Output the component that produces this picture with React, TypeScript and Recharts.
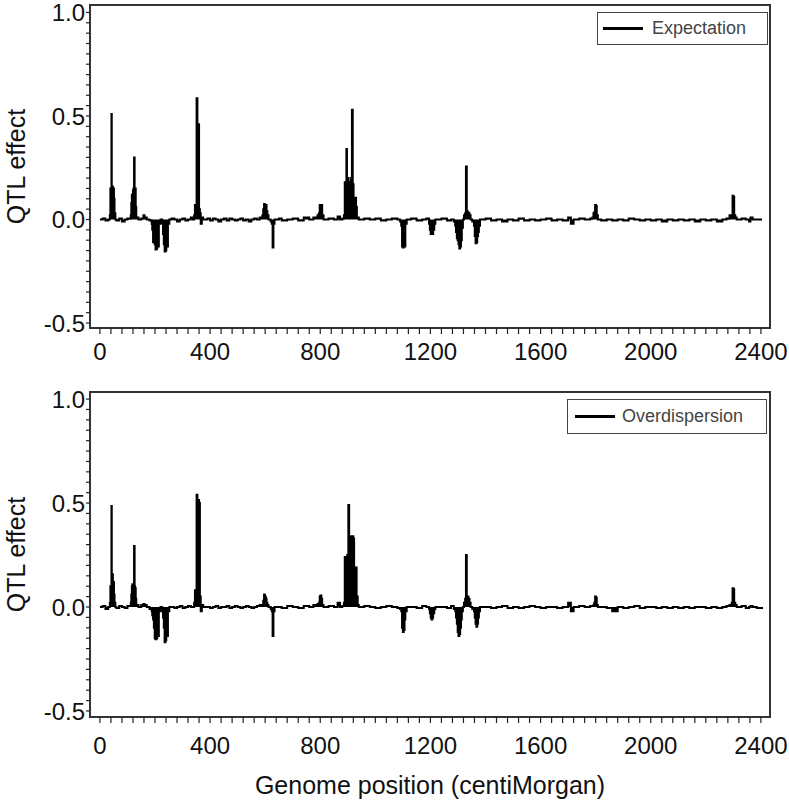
import { ComposedChart, Area, XAxis, YAxis, ReferenceArea, Legend } from "recharts"

const FONT = "'Liberation Sans', Arial, Helvetica, sans-serif"

// genome position (cM) and QTL effect, expectation part
const expPos = [
  0, 10, 20, 30,
  36, 38, 40, 42, 43, 45, 47, 49, 51, 53, 56,
  60, 70, 80, 90, 100,
  112, 114, 116, 118, 120, 122, 124, 126, 128, 130, 132, 140,
  150, 158, 162, 170, 180,
  188, 190, 193, 196, 199, 202, 205, 208, 211, 214, 220,
  226, 229, 232, 235, 238, 241, 244, 247, 252,
  260, 270, 280, 290, 300, 310, 320, 330, 338,
  342, 345, 348, 351, 354, 357, 360, 363, 366, 370, 375,
  390, 400, 410, 420, 430, 440, 450, 460, 470, 480, 490, 500, 510, 520, 530, 540, 550, 560, 570, 580,
  590, 593, 596, 599, 602, 605, 608, 612,
  620, 624, 627, 630, 634,
  650, 660, 680, 700, 720, 740, 760, 775, 790,
  795, 798, 801, 804, 807, 812,
  830, 850, 863, 872, 880,
  886, 889, 892, 895, 897, 900, 903, 906, 909, 912, 915, 918, 921, 924, 927, 930, 933, 940,
  960, 980, 1000, 1020, 1040, 1060, 1080, 1090,
  1094, 1097, 1100, 1103, 1106, 1109, 1114,
  1130, 1150, 1170, 1185,
  1195, 1198, 1201, 1204, 1207, 1210, 1214, 1218,
  1240, 1260, 1275, 1285,
  1290, 1293, 1296, 1299, 1302, 1305, 1308, 1311, 1314, 1318,
  1322, 1326, 1329, 1332, 1335, 1338, 1342, 1346, 1352,
  1358, 1361, 1364, 1367, 1370, 1373, 1376, 1380,
  1400, 1420, 1440, 1460, 1480, 1500, 1520, 1540, 1560, 1580, 1600, 1620, 1640, 1660, 1680, 1700, 1710, 1720, 1740, 1760, 1780,
  1788, 1792, 1795, 1798, 1801, 1804, 1808,
  1820, 1840, 1860, 1880, 1900, 1920, 1940, 1960, 1980, 2000, 2020, 2040, 2060, 2080, 2100, 2120, 2140, 2160, 2180, 2200, 2220, 2240, 2260, 2275,
  2286, 2290, 2294, 2297, 2300, 2303, 2307, 2312,
  2330, 2345, 2357, 2362, 2370, 2385, 2404,
]
const expVal = [
  0, 0.005, -0.005, 0,
  0.02, 0.15, 0.1, 0.51, 0.15, 0.16, 0.12, 0.15, 0.1, 0.03, 0,
  -0.005, 0.005, -0.01, 0, 0.005,
  0.02, 0.08, 0.12, 0.1, 0.14, 0.15, 0.3, 0.12, 0.15, 0.06, 0.01, 0,
  0.005, 0.02, 0.01, 0, -0.005,
  -0.02, -0.05, -0.11, -0.08, -0.12, -0.145, -0.14, -0.1, -0.13, -0.02, 0,
  -0.02, -0.07, -0.12, -0.155, -0.15, -0.1, -0.13, -0.02, 0,
  0.005, 0, -0.01, 0, 0.005, -0.005, 0, 0.01, 0,
  0.02, 0.07, 0.05, 0.586, 0.07, 0.46, 0.05, 0.03, -0.02, 0.01, 0,
  0.005, -0.005, 0.005, 0, -0.01, 0, 0.005, -0.005, 0.005, 0, -0.005, 0, 0.005, -0.005, 0, -0.01, 0, 0.005, 0, 0.01,
  0.02, 0.05, 0.075, 0.06, 0.07, 0.04, 0.02, 0,
  -0.01, -0.02, -0.135, -0.02, 0,
  0.005, -0.005, 0, 0.005, -0.005, 0.01, 0, 0.01, 0.02,
  0.03, 0.07, 0.065, 0.07, 0.02, 0,
  0.005, 0, 0.015, 0, 0.005,
  0.02, 0.18, 0.15, 0.34, 0.18, 0.2, 0.16, 0.18, 0.16, 0.2, 0.53, 0.17, 0.105, 0.1, 0.105, 0.06, 0.01, 0,
  0.005, 0, 0.005, -0.005, 0, 0.005, 0, -0.01,
  -0.03, -0.13, -0.135, -0.12, -0.13, -0.02, 0,
  0.005, -0.005, 0, 0.005,
  -0.02, -0.05, -0.07, -0.06, -0.07, -0.05, -0.02, 0,
  0.005, -0.005, 0, -0.01,
  -0.03, -0.06, -0.09, -0.1, -0.12, -0.14, -0.13, -0.1, -0.04, 0,
  0.02, 0.03, 0.256, 0.04, 0.035, 0.03, 0.02, 0, -0.01,
  -0.03, -0.08, -0.115, -0.11, -0.08, -0.06, -0.03, 0,
  0.005, -0.005, 0, -0.01, 0, -0.005, 0.005, -0.005, 0, -0.005, 0, 0.005, -0.005, 0, -0.005, 0.01, -0.02, 0, 0.005, 0, 0.005,
  0.01, 0.03, 0.035, 0.07, 0.065, 0.02, 0,
  -0.005, 0, -0.005, 0, -0.005, 0.005, 0, -0.005, 0, -0.005, 0, -0.01, 0, -0.005, 0, -0.005, 0, -0.01, 0, -0.005, 0, -0.01, 0, 0.005,
  0.02, 0.02, 0.02, 0.115, 0.11, 0.02, 0.01, 0,
  0.005, 0, -0.01, 0.01, 0, 0, 0,
]

// overdispersion part
const ovdPos = [
  0, 10, 20, 30,
  36, 38, 40, 42, 43, 45, 47, 49, 51, 53, 56,
  60, 70, 80, 90, 100,
  112, 114, 116, 118, 120, 122, 124, 126, 128, 130, 132, 140,
  150, 158, 162, 170, 180,
  188, 190, 193, 196, 199, 202, 205, 208, 211, 214, 220,
  226, 229, 232, 235, 238, 241, 244, 247, 252,
  260, 270, 280, 290, 300, 310, 320, 330, 338,
  342, 345, 348, 351, 354, 357, 360, 363, 366, 370, 375,
  390, 400, 410, 420, 430, 440, 450, 460, 470, 480, 490, 500, 510, 520, 530, 540, 550, 560, 570, 580,
  590, 593, 596, 599, 602, 605, 608, 612,
  620, 624, 627, 630, 634,
  650, 660, 680, 700, 720, 740, 760, 775, 790,
  795, 798, 801, 804, 807, 812,
  830, 850, 863, 872, 880,
  886, 889, 892, 895, 898, 902, 905, 908, 911, 914, 917, 920, 923, 926, 929, 932, 936, 940,
  960, 980, 1000, 1020, 1040, 1060, 1080, 1090,
  1094, 1097, 1100, 1103, 1106, 1109, 1114,
  1130, 1150, 1170, 1185,
  1195, 1198, 1201, 1204, 1207, 1210, 1214, 1218,
  1240, 1260, 1275, 1285,
  1290, 1293, 1296, 1299, 1302, 1305, 1308, 1311, 1314, 1318,
  1322, 1326, 1329, 1332, 1335, 1338, 1342, 1346, 1352,
  1358, 1361, 1364, 1367, 1370, 1373, 1376, 1380,
  1400, 1420, 1440, 1460, 1480, 1500, 1520, 1540, 1560, 1580, 1600, 1620, 1640, 1660, 1680, 1700, 1710, 1720, 1740, 1760, 1780,
  1788, 1792, 1795, 1798, 1801, 1804, 1808,
  1820, 1840, 1860, 1880, 1900, 1920, 1940, 1960, 1980, 2000, 2020, 2040, 2060, 2080, 2100, 2120, 2140, 2160, 2180, 2200, 2220, 2240, 2260, 2275,
  2286, 2290, 2294, 2297, 2300, 2303, 2307, 2312,
  2330, 2345, 2357, 2362, 2370, 2385, 2404,
]
const ovdVal = [
  0, 0.005, -0.01, 0,
  0.02, 0.1, 0.08, 0.486, 0.15, 0.157, 0.11, 0.12, 0.06, 0.02, 0,
  -0.005, 0.005, 0, -0.005, 0.005,
  0.02, 0.06, 0.1, 0.11, 0.1, 0.11, 0.293, 0.1, 0.09, 0.04, 0.01, 0,
  0.01, 0.015, 0.01, 0, -0.01,
  -0.02, -0.04, -0.06, -0.1, -0.15, -0.155, -0.15, -0.12, -0.14, -0.02, 0,
  -0.02, -0.05, -0.1, -0.17, -0.16, -0.12, -0.14, -0.02, 0,
  0, -0.005, 0, 0.005, -0.005, 0, 0.005, 0, 0,
  0.02, 0.08, 0.06, 0.54, 0.5, 0.515, 0.5, 0.05, -0.02, 0.01, 0,
  0, -0.005, 0, 0.005, -0.005, 0, 0, 0.005, -0.005, 0, 0.005, 0, -0.005, 0, 0.005, 0, -0.005, 0, 0.005, 0.01,
  0.01, 0.03, 0.06, 0.05, 0.04, 0.02, 0.01, 0,
  -0.01, -0.02, -0.14, -0.02, 0,
  0, -0.005, 0.005, 0, -0.005, 0.005, 0, 0.01, 0.015,
  0.02, 0.05, 0.055, 0.04, 0.01, 0,
  0.005, 0, 0.02, 0, 0.005,
  0.02, 0.24, 0.22, 0.24, 0.25, 0.49, 0.25, 0.24, 0.34, 0.33, 0.34, 0.33, 0.19, 0.18, 0.19, 0.05, 0.01, 0,
  0.005, 0, -0.005, 0, 0.005, 0, -0.005, -0.01,
  -0.02, -0.1, -0.12, -0.11, -0.06, -0.02, 0,
  0, -0.005, 0.005, 0,
  -0.01, -0.03, -0.05, -0.06, -0.05, -0.03, -0.01, 0,
  0, -0.005, 0.005, -0.01,
  -0.02, -0.05, -0.08, -0.12, -0.14, -0.13, -0.1, -0.06, -0.02, 0,
  0.02, 0.04, 0.25, 0.05, 0.05, 0.04, 0.02, 0, -0.01,
  -0.02, -0.05, -0.08, -0.095, -0.08, -0.05, -0.02, 0,
  0, -0.005, 0, 0.005, -0.005, 0, -0.005, 0, 0.005, 0, -0.005, 0, 0, -0.005, 0, 0.02, -0.02, 0, 0.005, 0, 0.005,
  0.005, 0.01, 0.02, 0.05, 0.045, 0.01, 0,
  0, -0.005, -0.02, 0, -0.005, 0, 0.005, -0.005, 0, 0, -0.005, 0, -0.005, 0, -0.005, 0, -0.005, 0, 0, -0.005, 0, -0.005, 0, 0.005,
  0.01, 0.01, 0.02, 0.09, 0.085, 0.02, 0.01, 0,
  0.005, -0.005, 0, 0.005, 0, -0.005, 0,
]

const xMajor = [0, 400, 800, 1200, 1600, 2000, 2400]
const xTicks = Array.from({ length: 61 }, (_, i) => i * 40)
const yTicks = Array.from({ length: 31 }, (_, i) => (i - 10) / 20)
const X_DOMAIN: [number, number] = [-36, 2433]

function XTick({ x, y, payload }: any) {
  if (!xMajor.includes(payload.value)) return <g />
  return (
    <text x={x} y={y} dy="0.71em" textAnchor="middle" fontSize={24} fontFamily={FONT} fill="#111">
      {payload.value}
    </text>
  )
}

function YTick({ x, y, payload }: any) {
  const v = payload.value
  if (Math.round(v * 20) % 10 !== 0) return <g />
  return (
    <text x={x} y={y} dy="0.36em" textAnchor="end" fontSize={24} fontFamily={FONT} fill="#111">
      {v.toFixed(1)}
    </text>
  )
}

function LegendBox({ name, lineGap, textGap }: { name: string; lineGap: number; textGap: number }) {
  return (
    <div
      style={{
        boxSizing: "border-box",
        width: "100%",
        height: "100%",
        border: "1.5px solid #444",
        display: "flex",
        alignItems: "center",
        fontFamily: FONT,
        fontSize: 18,
        color: "#444",
        background: "#fff",
      }}
    >
      <span style={{ display: "inline-block", width: 40, height: 3, background: "#000", marginLeft: lineGap }} />
      <span style={{ marginLeft: textGap, whiteSpace: "nowrap" }}>{name}</span>
    </div>
  )
}

type PanelProps = {
  pos: number[]
  val: number[]
  name: string
  top: number
  height: number
  marginTop: number
  xAxisHeight: number
  yDomain: [number, number]
  labelGap: number
  legend: { left: number; top: number; width: number; height: number; lineGap: number; textGap: number }
  xTitle?: string
}

function Panel(p: PanelProps) {
  const data = p.pos.map((pos, i) => ({ pos, val: p.val[i] }))
  return (
    <div style={{ position: "absolute", left: 0, top: p.top }}>
      <ComposedChart width={789} height={p.height} data={data} margin={{ top: p.marginTop, right: 19, bottom: 0, left: 0 }}>
        <XAxis
          dataKey="pos"
          type="number"
          domain={X_DOMAIN}
          allowDataOverflow
          ticks={xTicks}
          interval={0}
          axisLine={false}
          tickLine={{ stroke: "#222", strokeWidth: 1.2 }}
          tickSize={6}
          tickMargin={p.labelGap}
          tick={XTick}
          height={p.xAxisHeight}
          label={
            p.xTitle
              ? { value: p.xTitle, position: "insideBottom", offset: 7, fontSize: 25, fill: "#111", fontFamily: FONT }
              : undefined
          }
        />
        <YAxis
          type="number"
          domain={p.yDomain}
          allowDataOverflow
          ticks={yTicks}
          interval={0}
          width={90}
          axisLine={false}
          tickLine={{ stroke: "#222", strokeWidth: 1.2 }}
          tickSize={4}
          tickMargin={1}
          tick={YTick}
          label={{
            value: "QTL effect",
            angle: -90,
            position: "insideLeft",
            offset: 16,
            fontSize: 25,
            fill: "#111",
            fontFamily: FONT,
            style: { textAnchor: "middle" },
          }}
        />
        <ReferenceArea
          x1={X_DOMAIN[0]}
          x2={X_DOMAIN[1]}
          y1={p.yDomain[0]}
          y2={p.yDomain[1]}
          fill="none"
          fillOpacity={0}
          stroke="#333"
          strokeWidth={2}
          ifOverflow="visible"
        />
        <Area
          dataKey="val"
          name={p.name}
          type="stepAfter"
          baseValue={0}
          stroke="#000"
          strokeWidth={2}
          fill="#000"
          fillOpacity={1}
          dot={false}
          activeDot={false}
          isAnimationActive={false}
        />
        <Legend
          layout="vertical"
          align="center"
          verticalAlign="middle"
          wrapperStyle={{ left: p.legend.left, top: p.legend.top, width: p.legend.width, height: p.legend.height }}
          content={() => <LegendBox name={p.name} lineGap={p.legend.lineGap} textGap={p.legend.textGap} />}
        />
      </ComposedChart>
    </div>
  )
}

export default function App() {
  return (
    <div style={{ position: "absolute", left: 0, top: 0, width: 789, height: 801, background: "#fff" }}>
      <Panel
        pos={expPos}
        val={expVal}
        name="Expectation"
        top={0}
        height={380}
        marginTop={5}
        xAxisHeight={52}
        yDomain={[-0.524, 1.036]}
        labelGap={9}
        legend={{ left: 597, top: 12, width: 171, height: 33, lineGap: 5, textGap: 9 }}
      />
      <Panel
        pos={ovdPos}
        val={ovdVal}
        name="Overdispersion"
        top={385}
        height={416}
        marginTop={7}
        xAxisHeight={84}
        yDomain={[-0.529, 1.034]}
        labelGap={14}
        legend={{ left: 567, top: 14, width: 200, height: 35, lineGap: 7, textGap: 7 }}
        xTitle="Genome position (centiMorgan)"
      />
    </div>
  )
}
